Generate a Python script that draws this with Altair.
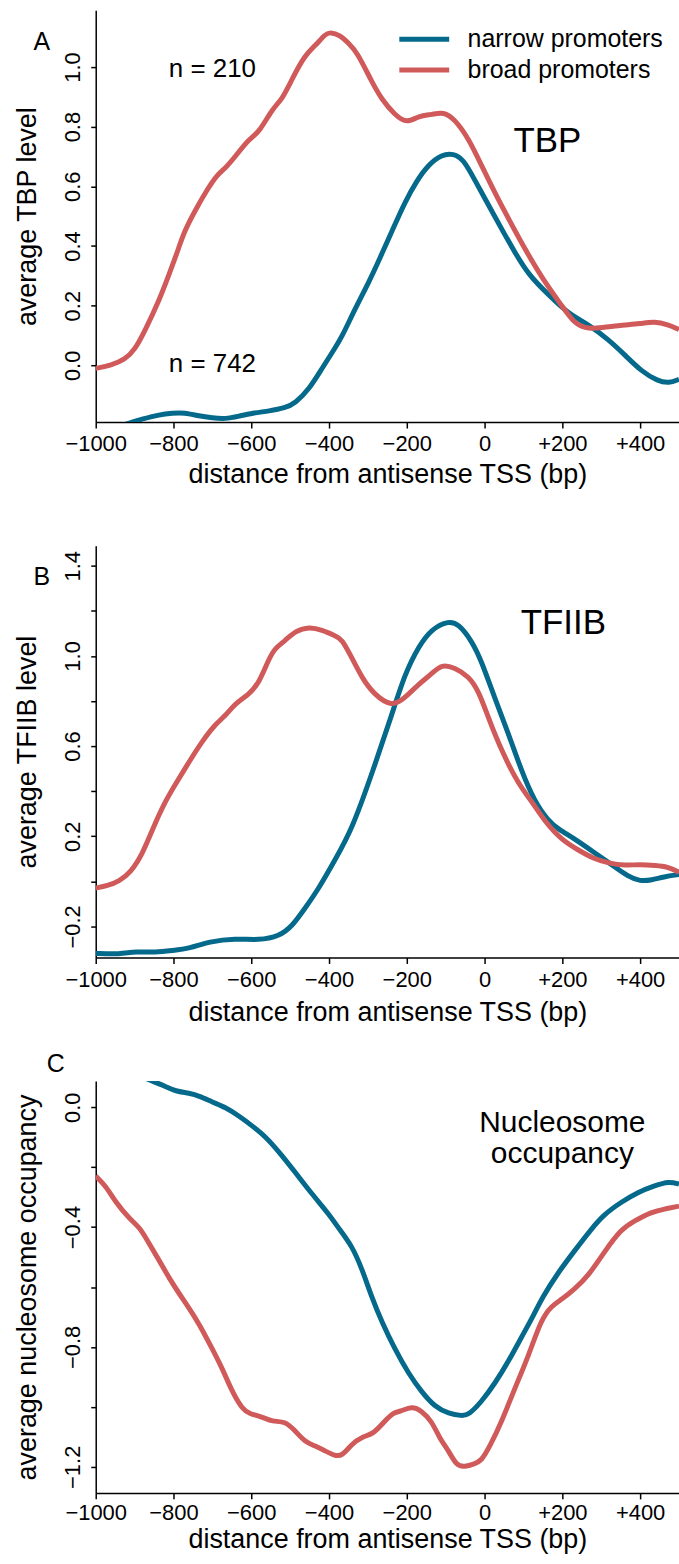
import altair as alt
import pandas as pd

FONT = "Liberation Sans"
BLUE = "#05698b"
RED = "#d05a5a"
GROUPS = ["narrow promoters", "broad promoters"]

# ---------------- Panel A: TBP ----------------
A_NARROW_X = [-1000, -950, -913, -880, -836, -803, -772, -734, -700, -667, -631, -597, -554, -513, -487,
              -451, -418, -385, -367, -333, -297, -269, -238, -205, -174, -144, -110, -80, -54, -26,
              10, 44, 75, 113, 164, 215, 267, 318, 359, 403, 446, 474, 500]
A_NARROW_Y = [-0.24, -0.21, -0.193, -0.18, -0.165, -0.16, -0.158, -0.17, -0.176, -0.18, -0.17, -0.16, -0.153,
              -0.143, -0.127, -0.08, -0.01, 0.057, 0.095, 0.19, 0.28, 0.36, 0.45, 0.547, 0.62, 0.673, 0.707,
              0.71, 0.69, 0.623, 0.537, 0.457, 0.385, 0.303, 0.237, 0.173, 0.137, 0.087, 0.037, -0.02, -0.053,
              -0.06, -0.047]
A_BROAD_X = [-1000, -960, -925, -900, -872, -836, -810, -790, -772, -744, -713, -687, -667, -641, -605, -580,
             -546, -521, -495, -462, -436, -410, -397, -372, -350, -328, -290, -264, -231, -200, -169, -136,
             -105, -77, -41, -8, 26, 62, 108, 154, 197, 231, 260, 282, 344, 403, 436, 472, 500]
A_BROAD_Y = [-0.01, 0.0, 0.02, 0.05, 0.12, 0.22, 0.31, 0.38, 0.45, 0.52, 0.59, 0.64, 0.66, 0.70, 0.76, 0.78,
             0.86, 0.89, 0.96, 1.04, 1.07, 1.11, 1.117, 1.107, 1.08, 1.05, 0.95, 0.89, 0.84, 0.81, 0.837, 0.84,
             0.85, 0.825, 0.76, 0.67, 0.58, 0.49, 0.38, 0.28, 0.203, 0.14, 0.125, 0.123, 0.133, 0.14, 0.147,
             0.137, 0.12]

# ---------------- Panel B: TFIIB ----------------
B_NARROW_X = [-1000, -939, -897, -846, -803, -759, -708, -641, -580, -528, -495, -462, -426, -383, -341, -290,
              -238, -205, -169, -136, -92, -67, -33, -8, 26, 62, 95, 128, 164, 190, 230, 280, 330, 370, 400,
              430, 460, 500]
B_NARROW_Y = [-0.32, -0.324, -0.311, -0.316, -0.307, -0.298, -0.267, -0.253, -0.262, -0.244, -0.2, -0.12,
              -0.031, 0.10, 0.231, 0.476, 0.742, 0.92, 1.044, 1.12, 1.156, 1.142, 1.067, 0.978, 0.813, 0.653,
              0.489, 0.356, 0.267, 0.231, 0.19, 0.13, 0.07, 0.02, 0.0, 0.005, 0.02, 0.03]
B_BROAD_X = [-1000, -970, -940, -910, -880, -854, -821, -795, -759, -726, -692, -667, -641, -605, -580, -554,
             -538, -513, -487, -451, -418, -385, -367, -341, -315, -285, -238, -205, -169, -136, -110, -77,
             -41, -15, 10, 44, 87, 121, 154, 200, 240, 280, 320, 360, 400, 440, 470, 500]
B_BROAD_Y = [-0.03, -0.02, 0.0, 0.04, 0.12, 0.231, 0.356, 0.43, 0.533, 0.622, 0.698, 0.733, 0.79, 0.83, 0.88,
             0.99, 1.036, 1.067, 1.11, 1.13, 1.115, 1.09, 1.076, 0.99, 0.902, 0.83, 0.773, 0.813, 0.876, 0.92,
             0.964, 0.947, 0.91, 0.844, 0.724, 0.578, 0.43, 0.356, 0.267, 0.18, 0.14, 0.10, 0.08, 0.07, 0.075,
             0.07, 0.065, 0.04]

# ---------------- Panel C: nucleosome occupancy ----------------
C_NARROW_X = [-1000, -930, -880, -854, -821, -795, -759, -733, -700, -667, -631, -597, -564, -528, -487, -444,
              -400, -372, -341, -315, -290, -264, -231, -195, -162, -128, -92, -59, -41, -8, 26, 62, 95, 128,
              146, 190, 231, 274, 308, 351, 395, 436, 474, 500]
C_NARROW_Y = [0.17, 0.13, 0.10, 0.087, 0.07, 0.053, 0.047, 0.037, 0.017, 0.0, -0.03, -0.063, -0.097, -0.15,
              -0.217, -0.29, -0.357, -0.41, -0.463, -0.54, -0.635, -0.717, -0.807, -0.89, -0.95, -1.0, -1.023,
              -1.03, -1.027, -0.983, -0.923, -0.847, -0.767, -0.69, -0.64, -0.55, -0.48, -0.407, -0.357, -0.317,
              -0.283, -0.263, -0.247, -0.257]
C_BROAD_X = [-1000, -974, -949, -913, -887, -862, -836, -810, -785, -760, -734, -700, -674, -649, -623, -605,
             -572, -546, -513, -487, -462, -436, -410, -385, -367, -341, -315, -285, -259, -233, -218, -187,
             -162, -136, -115, -92, -72, -51, -26, -8, 13, 44, 77, 113, 146, 172, 200, 231, 267, 308, 351, 385,
             428, 462, 500]
C_BROAD_Y = [-0.23, -0.263, -0.317, -0.373, -0.40, -0.457, -0.513, -0.573, -0.623, -0.67, -0.723, -0.807,
             -0.873, -0.95, -1.007, -1.023, -1.033, -1.05, -1.047, -1.08, -1.117, -1.13, -1.147, -1.163, -1.165,
             -1.123, -1.10, -1.09, -1.05, -1.017, -1.017, -0.997, -1.013, -1.047, -1.107, -1.147, -1.197, -1.2,
             -1.19, -1.18, -1.133, -1.05, -0.94, -0.83, -0.707, -0.663, -0.64, -0.607, -0.563, -0.483, -0.407,
             -0.38, -0.35, -0.34, -0.33]

# ---------------- axes / text ----------------
X_TICKS = [-1000, -800, -600, -400, -200, 0, 200, 400]
X_TITLE = "distance from antisense TSS (bp)"
A_Y_TICKS = [0.0, 0.2, 0.4, 0.6, 0.8, 1.0]
B_Y_TICKS = [-0.2, 0.0, 0.2, 0.4, 0.6, 0.8, 1.0, 1.2, 1.4]
C_Y_TICKS = [-1.2, -1.0, -0.8, -0.6, -0.4, -0.2, 0.0]
Y_TITLES = ["average TBP level", "average TFIIB  level", "average nucleosome occupancy"]
PANEL_LETTERS = ["A", "B", "C"]
N_LABELS = ["n = 210", "n = 742"]
FACTOR_LABELS = ["TBP", "TFIIB", "Nucleosome", "occupancy"]

W, H = 585, 413


def make_df(xn, yn, xb, yb):
    return pd.concat([
        pd.DataFrame({"x": xn, "y": yn, "group": GROUPS[0]}),
        pd.DataFrame({"x": xb, "y": yb, "group": GROUPS[1]}),
    ], ignore_index=True)


def label(text, x, y, size):
    return alt.Chart(pd.DataFrame({"t": [text]})).mark_text(
        font=FONT, fontSize=size, align="center", baseline="alphabetic", color="black"
    ).encode(text="t:N", x=alt.value(x), y=alt.value(y))


def panel(df, ydomain, yticks, ylabel_expr, ytitle, legend, labels, x_label_pad, x_title_y):
    xaxis = alt.Axis(values=X_TICKS, format="d",
                     labelExpr="datum.value > 0 ? '+' + datum.label : datum.label",
                     title=X_TITLE, labelFlush=False, labelOverlap=False,
                     tickSize=6, labelPadding=x_label_pad, labelBaseline="alphabetic",
                     titleX=W / 2, titleY=x_title_y, titleBaseline="alphabetic", titleAlign="center")
    yaxis = alt.Axis(values=yticks, labelExpr=ylabel_expr, title=ytitle,
                     labelAngle=270, labelAlign="center", labelBaseline="alphabetic",
                     labelFlush=False, labelOverlap=False, tickSize=5, labelPadding=11,
                     titleAngle=270, titleX=-60, titleY=H / 2, titleBaseline="alphabetic",
                     titleAlign="center")
    lines = alt.Chart(df).mark_line(strokeWidth=5, clip=True, interpolate="basis").encode(
        x=alt.X("x:Q", scale=alt.Scale(domain=[-1000, 500], nice=False, zero=False), axis=xaxis),
        y=alt.Y("y:Q", scale=alt.Scale(domain=ydomain, nice=False, zero=False), axis=yaxis),
        color=alt.Color("group:N", scale=alt.Scale(domain=GROUPS, range=[BLUE, RED]), legend=legend),
        order="x:Q",
    )
    return alt.layer(lines, *labels).properties(width=W, height=H)


legend = alt.Legend(orient="none", legendX=302, legendY=17, title=None, symbolType="stroke",
                    symbolStrokeWidth=5, symbolSize=2500, labelFont=FONT, labelFontSize=25,
                    labelOffset=16, labelLimit=500, clipHeight=24, rowPadding=6, padding=0,
                    labelColor="black")

pA = panel(make_df(A_NARROW_X, A_NARROW_Y, A_BROAD_X, A_BROAD_Y), [-0.19, 1.19], A_Y_TICKS,
           "format(datum.value, '.1f')", Y_TITLES[0], legend,
           [label(PANEL_LETTERS[0], -54, 40, 25), label(N_LABELS[0], 117, 67, 26),
            label(N_LABELS[1], 117, 363, 26), label(FACTOR_LABELS[0], 453, 142, 35)], 23, 61)

pB = panel(make_df(B_NARROW_X, B_NARROW_Y, B_BROAD_X, B_BROAD_Y), [-0.338, 1.489], B_Y_TICKS,
           "abs(round(datum.value * 10)) % 4 == 2 ? format(datum.value, '.1f') : ''", Y_TITLES[1], None,
           [label(PANEL_LETTERS[1], -54, 39, 25), label(FACTOR_LABELS[1], 469, 89, 35)], 23, 63)

pC = panel(make_df(C_NARROW_X, C_NARROW_Y, C_BROAD_X, C_BROAD_Y), [-1.287, 0.087], C_Y_TICKS,
           "abs(round(datum.value * 10)) % 4 == 0 ? format(datum.value, '.1f') : ''", Y_TITLES[2], None,
           [label(PANEL_LETTERS[2], -40, -9, 25), label(FACTOR_LABELS[2], 468, 51, 30),
            label(FACTOR_LABELS[3], 468, 82, 30)], 21, 55)

chart = alt.vconcat(pA, pB, pC, spacing=124, bounds="flush").resolve_scale(
    y="independent", color="independent").resolve_legend(color="independent").properties(
    padding={"left": 13, "top": 8, "right": 0, "bottom": 0}
).configure_view(stroke=None).configure_axis(
    grid=False, domainColor="black", domainWidth=1.5, tickColor="black", tickWidth=1.5,
    labelFont=FONT, labelFontSize=22, labelColor="black",
    titleFont=FONT, titleFontSize=27, titleFontWeight="normal", titleColor="black"
)

chart.save("out.html", embed_options={"renderer": "svg", "actions": False})
